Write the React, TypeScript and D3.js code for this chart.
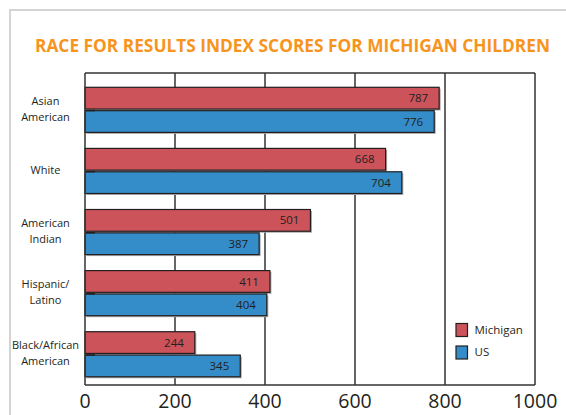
import React from 'react';
import * as d3 from 'd3';

// race for results index, michigan vs US

const categories = [
  ['Asian', 'American'],
  ['White'],
  ['American', 'Indian'],
  ['Hispanic/', 'Latino'],
  ['Black/African', 'American'],
];
const seriesNames = ['Michigan', 'US'];
const michigan = [787, 668, 501, 411, 244];
const us = [776, 704, 387, 404, 345];
const xTicks = [0, 200, 400, 600, 800, 1000];

const RED = '#cd535a';
const BLUE = '#348cc9';
const INK = '#231f20';
const FONT = "'Open Sans', 'Noto Sans', sans-serif";

const App = () => {
  const width = 566;
  const height = 415;
  const left = 85;
  const right = 535;
  const top = 73;
  const bottom = 385;

  const x = d3.scaleLinear().domain([0, 1000]).range([left, right]);
  const keys = categories.map((c) => c.join(' '));
  const y = d3.scaleBand().domain(keys).range([87.3, 376.8]).paddingInner(0.262).paddingOuter(0);
  const ySub = d3.scaleBand().domain(seriesNames).range([0, y.bandwidth()]).paddingInner(0.07);
  const color = d3.scaleOrdinal<string, string>().domain(seriesNames).range([RED, BLUE]);
  const values = [michigan, us];

  return (
    <svg width={width} height={height} style={{ position: 'absolute', left: 0, top: 0 }}>
      <rect x={0} y={0} width={width} height={height} fill='#fff' />
      {/* page frame */}
      <rect x={10} y={10} width={700} height={600} fill='none' stroke='#d4d4d4' strokeWidth={2} />

      <text x={292.5} y={52.3} textAnchor='middle' fill='#f7941d' fontFamily={FONT}
        fontWeight='bold' fontSize={17.5} textLength={515} lengthAdjust='spacingAndGlyphs'>
        RACE FOR RESULTS INDEX SCORES FOR MICHIGAN CHILDREN
      </text>

      {/* grid */}
      {xTicks.slice(1).map((t) => (
        <line key={t} x1={x(t)} x2={x(t)} y1={top} y2={bottom} stroke='#333' strokeWidth={1.5} />
      ))}
      <line x1={left} x2={right} y1={top} y2={top} stroke='#333' strokeWidth={1.3} />

      {/* bars */}
      {keys.map((k, i) => (
        <g key={k} transform={`translate(0,${y(k)})`}>
          {seriesNames.map((s, j) => {
            const v = values[j][i];
            const by = ySub(s) as number;
            const bh = ySub.bandwidth();
            return (
              <g key={s}>
                <rect x={x(0) + 1.5} y={by + 1.5} width={x(v) - x(0)} height={bh} fill='#aaaaaa' />
                <rect x={x(0)} y={by} width={x(v) - x(0)} height={bh} fill={color(s)}
                  stroke={INK} strokeWidth={1.2} />
                <text x={x(v) - 11} y={by + bh / 2 + 1} textAnchor='end' dominantBaseline='middle'
                  fill={INK} fontFamily={FONT} fontSize={11.5}>{v}</text>
              </g>
            );
          })}
          <line x1={left} x2={left + 10} y1={ySub.bandwidth() + 1.5} y2={ySub.bandwidth() + 1.5}
            stroke={INK} strokeWidth={1.5} />
        </g>
      ))}

      {/* axes */}
      <line x1={left} x2={left} y1={top} y2={bottom} stroke='#333' strokeWidth={1.5} />
      <line x1={left} x2={right} y1={bottom} y2={bottom} stroke='#333' strokeWidth={1.5} />
      {xTicks.map((t) => (
        <text key={t} x={x(t)} y={407.5} textAnchor='middle' fill={INK} fontFamily={FONT}
          fontSize={19.5}>{t}</text>
      ))}

      {/* category labels */}
      {categories.map((lines, i) => {
        const cy = (y(keys[i]) as number) + y.bandwidth() / 2;
        const n = lines.length;
        return (
          <text key={i} textAnchor='middle' fill={INK} fontFamily={FONT} fontSize={11}>
            {lines.map((ln, li) => (
              <tspan key={li} x={45.5} y={cy + (li - (n - 1) / 2) * 16} dominantBaseline='middle'>{ln}</tspan>
            ))}
          </text>
        );
      })}

      {/* legend */}
      {seriesNames.map((s, j) => (
        <g key={s} transform={`translate(456,${323.5 + j * 22.5})`}>
          <rect x={0} y={0} width={11.5} height={13} fill={color(s)} stroke={INK} strokeWidth={1.2} />
          <text x={18.5} y={7} dominantBaseline='middle' fill={INK} fontFamily={FONT} fontSize={11.5}>{s}</text>
        </g>
      ))}
    </svg>
  );
};

export default App;
